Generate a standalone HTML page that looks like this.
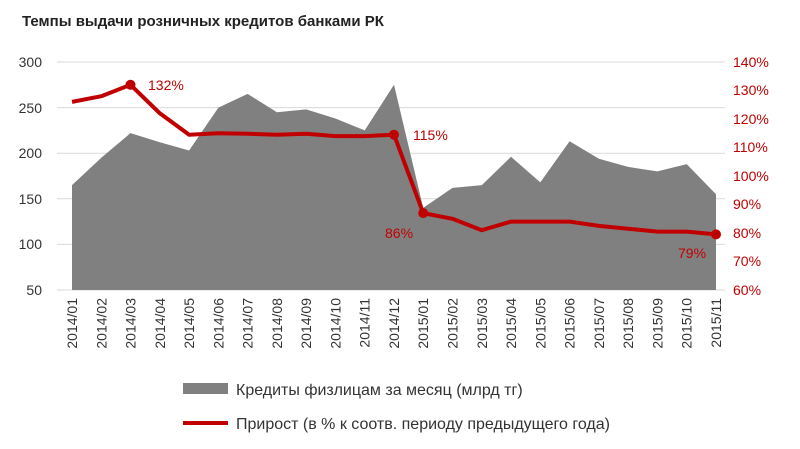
<!DOCTYPE html><html><head><meta charset="utf-8"><style>body{margin:0;background:#fff}svg{display:block}text{font-family:"Liberation Sans",sans-serif}</style></head><body>
<svg width="800" height="449" xmlns="http://www.w3.org/2000/svg">
<text x="22" y="26" font-size="15" font-weight="bold" fill="#222">Темпы выдачи розничных кредитов банками РК</text>
<g stroke="#d9d9d9" stroke-width="1">
<line x1="57" x2="725" y1="62" y2="62"/><line x1="57" x2="725" y1="107.6" y2="107.6"/><line x1="57" x2="725" y1="153.2" y2="153.2"/><line x1="57" x2="725" y1="198.8" y2="198.8"/><line x1="57" x2="725" y1="244.4" y2="244.4"/><line x1="57" x2="725" y1="290" y2="290"/></g>
<g font-size="14" fill="#333" text-anchor="end">
<text x="42" y="67">300</text><text x="42" y="113">250</text><text x="42" y="158">200</text><text x="42" y="204">150</text><text x="42" y="249">100</text><text x="42" y="295">50</text></g>
<g font-size="14" fill="#c00000">
<text x="733" y="67">140%</text><text x="733" y="95">130%</text><text x="733" y="124">120%</text><text x="733" y="152">110%</text><text x="733" y="181">100%</text><text x="733" y="209">90%</text><text x="733" y="238">80%</text><text x="733" y="266">70%</text><text x="733" y="295">60%</text></g>
<polygon fill="#808080" points="72,290 72,185.1 101.3,157.8 130.5,133.1 159.8,142.3 189.1,150.5 218.4,107.6 247.6,93.9 276.9,112.2 306.2,109.4 335.4,118.5 364.7,130.4 394,84.8 423.2,207.9 452.5,187.9 481.8,185.1 511,156.8 540.3,182.4 569.6,141.3 598.9,158.7 628.1,166.9 657.4,171.4 686.7,164.1 716,194.2 716,290"/>
<polyline fill="none" stroke="#c00000" stroke-width="4" stroke-linejoin="round" points="72,101.9 101.3,96.2 130.5,84.8 159.8,113.3 189.1,134.7 218.4,133.3 247.6,133.8 276.9,134.7 306.2,133.8 335.4,136.1 364.7,136.1 394,134.7 423.2,213.1 452.5,218.8 481.8,230.2 511,221.6 540.3,221.6 569.6,221.6 598.9,225.9 628.1,228.7 657.4,231.6 686.7,231.6 716,234.4"/>
<g fill="#c00000"><circle cx="130.5" cy="84.8" r="5"/><circle cx="394" cy="134.7" r="5"/><circle cx="423.2" cy="213.1" r="5"/><circle cx="716" cy="234.4" r="5"/></g>
<g font-size="14" fill="#c00000"><text x="148" y="90">132%</text><text x="413" y="140">115%</text><text x="385" y="238">86%</text><text x="678" y="258">79%</text></g>
<g font-size="14" fill="#333" text-anchor="end">
<text transform="translate(77,298) rotate(-90)">2014/01</text><text transform="translate(106.3,298) rotate(-90)">2014/02</text><text transform="translate(135.5,298) rotate(-90)">2014/03</text><text transform="translate(164.8,298) rotate(-90)">2014/04</text><text transform="translate(194.1,298) rotate(-90)">2014/05</text><text transform="translate(223.4,298) rotate(-90)">2014/06</text><text transform="translate(252.6,298) rotate(-90)">2014/07</text><text transform="translate(281.9,298) rotate(-90)">2014/08</text><text transform="translate(311.2,298) rotate(-90)">2014/09</text><text transform="translate(340.4,298) rotate(-90)">2014/10</text><text transform="translate(369.7,298) rotate(-90)">2014/11</text><text transform="translate(399,298) rotate(-90)">2014/12</text><text transform="translate(428.2,298) rotate(-90)">2015/01</text><text transform="translate(457.5,298) rotate(-90)">2015/02</text><text transform="translate(486.8,298) rotate(-90)">2015/03</text><text transform="translate(516,298) rotate(-90)">2015/04</text><text transform="translate(545.3,298) rotate(-90)">2015/05</text><text transform="translate(574.6,298) rotate(-90)">2015/06</text><text transform="translate(603.9,298) rotate(-90)">2015/07</text><text transform="translate(633.1,298) rotate(-90)">2015/08</text><text transform="translate(662.4,298) rotate(-90)">2015/09</text><text transform="translate(691.7,298) rotate(-90)">2015/10</text><text transform="translate(721,298) rotate(-90)">2015/11</text></g>
<rect x="183" y="383" width="45" height="11" fill="#808080"/>
<text x="236" y="395" font-size="16" fill="#333">Кредиты физлицам за месяц (млрд тг)</text>
<line x1="183" x2="228" y1="423" y2="423" stroke="#c00000" stroke-width="4"/>
<text x="236" y="429" font-size="16" fill="#333">Прирост (в % к соотв. периоду предыдущего года)</text>
</svg></body></html>
